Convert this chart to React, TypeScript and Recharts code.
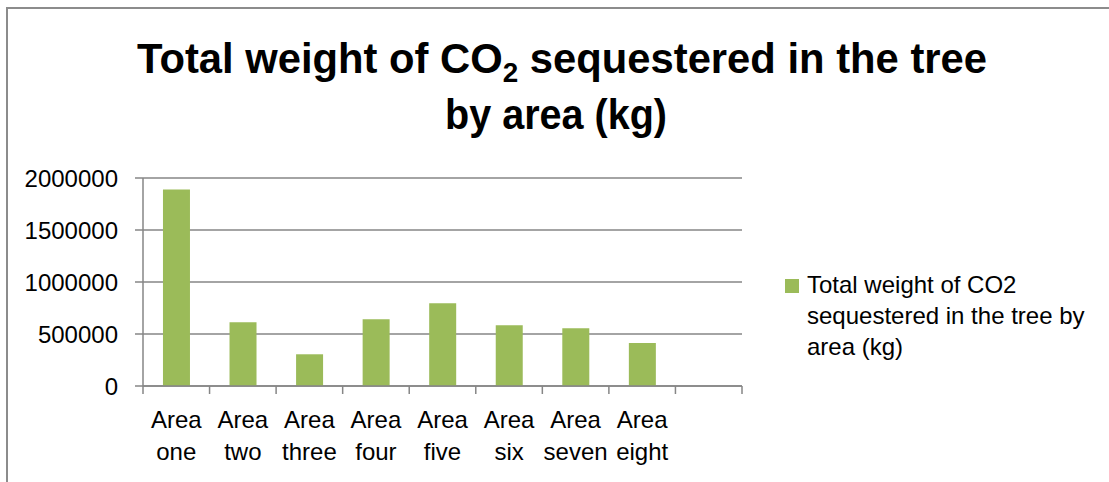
import React from 'react';
import { BarChart, Bar, XAxis, YAxis, CartesianGrid, Legend } from 'recharts';

// CO2 stored per sampling area; the trailing empty slot keeps the spare category on the axis
const areaNames = ['Area one', 'Area two', 'Area three', 'Area four', 'Area five', 'Area six', 'Area seven', 'Area eight', ''];
const co2Weights = [1890000, 612000, 305000, 641000, 795000, 584000, 555000, 413000, null];
const yTicks = [0, 500000, 1000000, 1500000, 2000000];
const seriesName = 'Total weight of CO2 sequestered in the tree by area (kg)';
const legendLines = ['Total weight of CO2', 'sequestered in the tree by', 'area (kg)'];

const W = 1109;
const H = 482;
const PLOT_LEFT = 143;
const PLOT_RIGHT = 742;
const AXIS_GREY = '#868686';
const BAR_GREEN = '#9BBB59';
const FONT = '"Liberation Sans", Arial, sans-serif';

const chartData = areaNames.map((name, i) => ({ name, weight: co2Weights[i] }));
const band = (PLOT_RIGHT - PLOT_LEFT) / areaNames.length;

// Excel style: tick marks sit between categories, label split over two lines
const CategoryTick = (props: any) => {
  const { x, y, payload, index } = props;
  const words = String(payload.value).split(' ');
  const last = index === areaNames.length - 1;
  return (
    <g>
      <line x1={x - band / 2} x2={x - band / 2} y1={y} y2={y + 8} stroke={AXIS_GREY} strokeWidth={1.5} />
      {last && <line x1={x + band / 2} x2={x + band / 2} y1={y} y2={y + 8} stroke={AXIS_GREY} strokeWidth={1.5} />}
      {words[0] && (
        <text textAnchor="middle" fontFamily={FONT} fontSize={24} fill="#000">
          <tspan x={x} y={y + 42}>{words[0]}</tspan>
          <tspan x={x} y={y + 74}>{words[1]}</tspan>
        </text>
      )}
    </g>
  );
};

const LegendBox = () => (
  <div style={{ position: 'relative', fontFamily: FONT, fontSize: 24, lineHeight: '31px', color: '#000', textAlign: 'left' }}>
    <span style={{ position: 'absolute', left: -22, top: 10, width: 14, height: 14, background: BAR_GREEN }} />
    {legendLines.map((l) => (
      <div key={l}>{l}</div>
    ))}
  </div>
);

export default function App() {
  return (
    <div style={{ position: 'absolute', left: 0, top: 0, width: W, height: H, background: '#fff' }}>
      <div style={{ position: 'absolute', left: 6, top: 7, width: W - 6, height: H - 7, borderLeft: '2px solid #8c8c8c', borderTop: '2px solid #8c8c8c' }} />
      <BarChart
        width={W}
        height={H}
        data={chartData}
        margin={{ top: 178, right: W - PLOT_RIGHT, bottom: 66, left: PLOT_LEFT - 60 }}
        barCategoryGap="30%"
      >
        <CartesianGrid vertical={false} stroke={AXIS_GREY} strokeWidth={1.5} />
        <XAxis
          dataKey="name"
          height={30}
          interval={0}
          tickSize={0}
          tickMargin={0}
          tickLine={false}
          axisLine={{ stroke: AXIS_GREY, strokeWidth: 1.5 }}
          tick={<CategoryTick />}
        />
        <YAxis
          width={60}
          domain={[0, 2000000]}
          ticks={yTicks}
          interval={0}
          tickSize={8}
          tickMargin={17}
          tickLine={{ stroke: AXIS_GREY, strokeWidth: 1.5 }}
          axisLine={{ stroke: AXIS_GREY, strokeWidth: 1.5 }}
          tick={{ fill: '#000', fontSize: 24, fontFamily: FONT }}
        />
        <Legend
          layout="horizontal"
          align="center"
          verticalAlign="middle"
          content={<LegendBox />}
          wrapperStyle={{ left: 807, top: 269, width: 300 }}
        />
        <Bar dataKey="weight" name={seriesName} fill={BAR_GREEN} isAnimationActive={false} />
      </BarChart>
      <svg width={W} height={H} style={{ position: 'absolute', left: 0, top: 0, pointerEvents: 'none' }}>
        <text x={137} y={73} fontFamily={FONT} fontWeight="bold" fontSize={42} fill="#000" textLength={850} lengthAdjust="spacingAndGlyphs">
          Total weight of CO<tspan fontSize={28} dy={9}>2</tspan>
          <tspan dy={-9}> sequestered in the tree</tspan>
        </text>
        <text x={445} y={129} fontFamily={FONT} fontWeight="bold" fontSize={42} fill="#000" textLength={222} lengthAdjust="spacingAndGlyphs">
          by area (kg)
        </text>
      </svg>
    </div>
  );
}
